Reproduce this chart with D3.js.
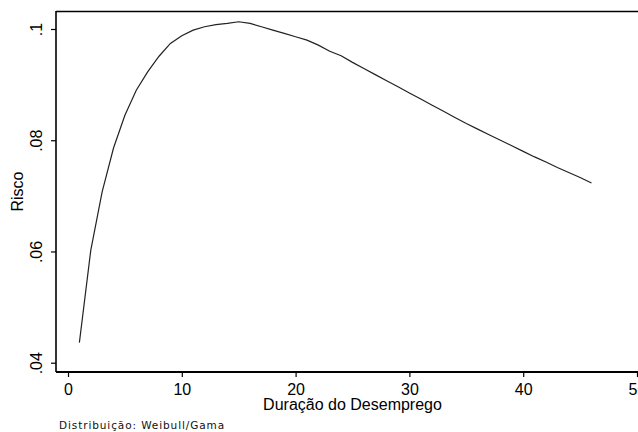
<!DOCTYPE html>
<html>
<head>
<meta charset="utf-8">
<script src="https://cdn.jsdelivr.net/npm/d3@7"></script>
<style>
  body { margin: 0; background: #fff; }
  svg { display: block; }
  text { font-family: "Liberation Sans", Arial, sans-serif; fill: #000; }
</style>
</head>
<body>
<svg id="chart" width="638" height="432"></svg>
<script>
// Duration in months and estimated hazard (Weibull/Gama)
const duration = d3.range(1, 47);
const risco = [
    0.0436, 0.0602, 0.0707, 0.0786, 0.0845, 0.0890, 0.0923, 0.0951, 0.0974, 0.0988,
    0.0998, 0.1004, 0.1008, 0.1010, 0.1013, 0.1010, 0.1004, 0.0998, 0.0992, 0.0986,
    0.0980, 0.0971, 0.0960, 0.0952, 0.0940, 0.0929, 0.0918, 0.0907, 0.0896, 0.0885,
    0.0874, 0.0863, 0.0852, 0.0841, 0.0830, 0.0820, 0.0810, 0.0800, 0.0790, 0.0780,
    0.0770, 0.0761, 0.0751, 0.0742, 0.0733, 0.0723
];
const xTicks = [0, 10, 20, 30, 40, 50];
const yTicks = [0.04, 0.06, 0.08, 0.1];
const yTickLabels = [".04", ".06", ".08", ".1"];
const xTitle = "Duração do Desemprego";
const yTitle = "Risco";
const note = "Distribuição: Weibull/Gama";

const svg = d3.select("#chart");

// plot frame (right edge runs past the window, as in the original)
const frame = { left: 56, top: 11, right: 649, bottom: 372 };

const x = d3.scaleLinear().domain([0, 50]).range([68, 637]);
const y = d3.scaleLinear().domain([0.04, 0.1]).range([362.7, 29]);

// top border
svg.append("line")
    .attr("x1", frame.left).attr("x2", frame.right)
    .attr("y1", frame.top + 0.5).attr("y2", frame.top + 0.5)
    .attr("stroke", "#000").attr("stroke-width", 1.4);

// left axis
const yAxis = svg.append("g")
    .attr("transform", `translate(${frame.left},0)`)
    .call(d3.axisLeft(y)
        .tickValues(yTicks)
        .tickSize(5)
        .tickFormat((d, i) => yTickLabels[i]));
yAxis.select(".domain").remove();
yAxis.selectAll(".tick line").attr("stroke", "#000").attr("stroke-width", 1.2);
yAxis.selectAll(".tick text")
    .attr("transform", "rotate(-90)")
    .attr("x", 0)
    .attr("y", -14)
    .attr("dy", 0)
    .attr("text-anchor", "middle")
    .style("font-size", "16px")
    .style("font-family", "Liberation Sans, Arial, sans-serif");
svg.append("line")
    .attr("x1", frame.left).attr("x2", frame.left)
    .attr("y1", frame.top).attr("y2", frame.bottom)
    .attr("stroke", "#000").attr("stroke-width", 1.6);

// bottom axis
const xAxis = svg.append("g")
    .attr("transform", `translate(0,${frame.bottom})`)
    .call(d3.axisBottom(x).tickValues(xTicks).tickSize(5).tickFormat(d3.format("d")));
xAxis.select(".domain").remove();
xAxis.selectAll(".tick line").attr("stroke", "#000").attr("stroke-width", 1.2);
xAxis.selectAll(".tick text")
    .attr("y", 12)
    .attr("dy", "0.71em")
    .style("font-size", "16px")
    .style("font-family", "Liberation Sans, Arial, sans-serif");
svg.append("line")
    .attr("x1", frame.left).attr("x2", frame.right)
    .attr("y1", frame.bottom).attr("y2", frame.bottom)
    .attr("stroke", "#000").attr("stroke-width", 2.2);

// axis titles
svg.append("text")
    .attr("x", (frame.left + frame.right) / 2)
    .attr("y", 410)
    .attr("text-anchor", "middle")
    .style("font-size", "16px")
    .text(xTitle);

svg.append("text")
    .attr("transform", `translate(23,${(frame.top + frame.bottom) / 2}) rotate(-90)`)
    .attr("text-anchor", "middle")
    .style("font-size", "16px")
    .text(yTitle);

// note
svg.append("text")
    .attr("x", 59)
    .attr("y", 429)
    .style("font-family", "DejaVu Sans, Verdana, sans-serif")
    .style("font-size", "10.5px")
    .style("letter-spacing", "0.9px")
    .style("fill", "#111")
    .text(note);

// hazard curve
const line = d3.line()
    .x((d, i) => x(duration[i]))
    .y(d => y(d));

svg.append("path")
    .datum(risco)
    .attr("fill", "none")
    .attr("stroke", "#222")
    .attr("stroke-width", 1.2)
    .attr("d", line);
</script>
</body>
</html>
